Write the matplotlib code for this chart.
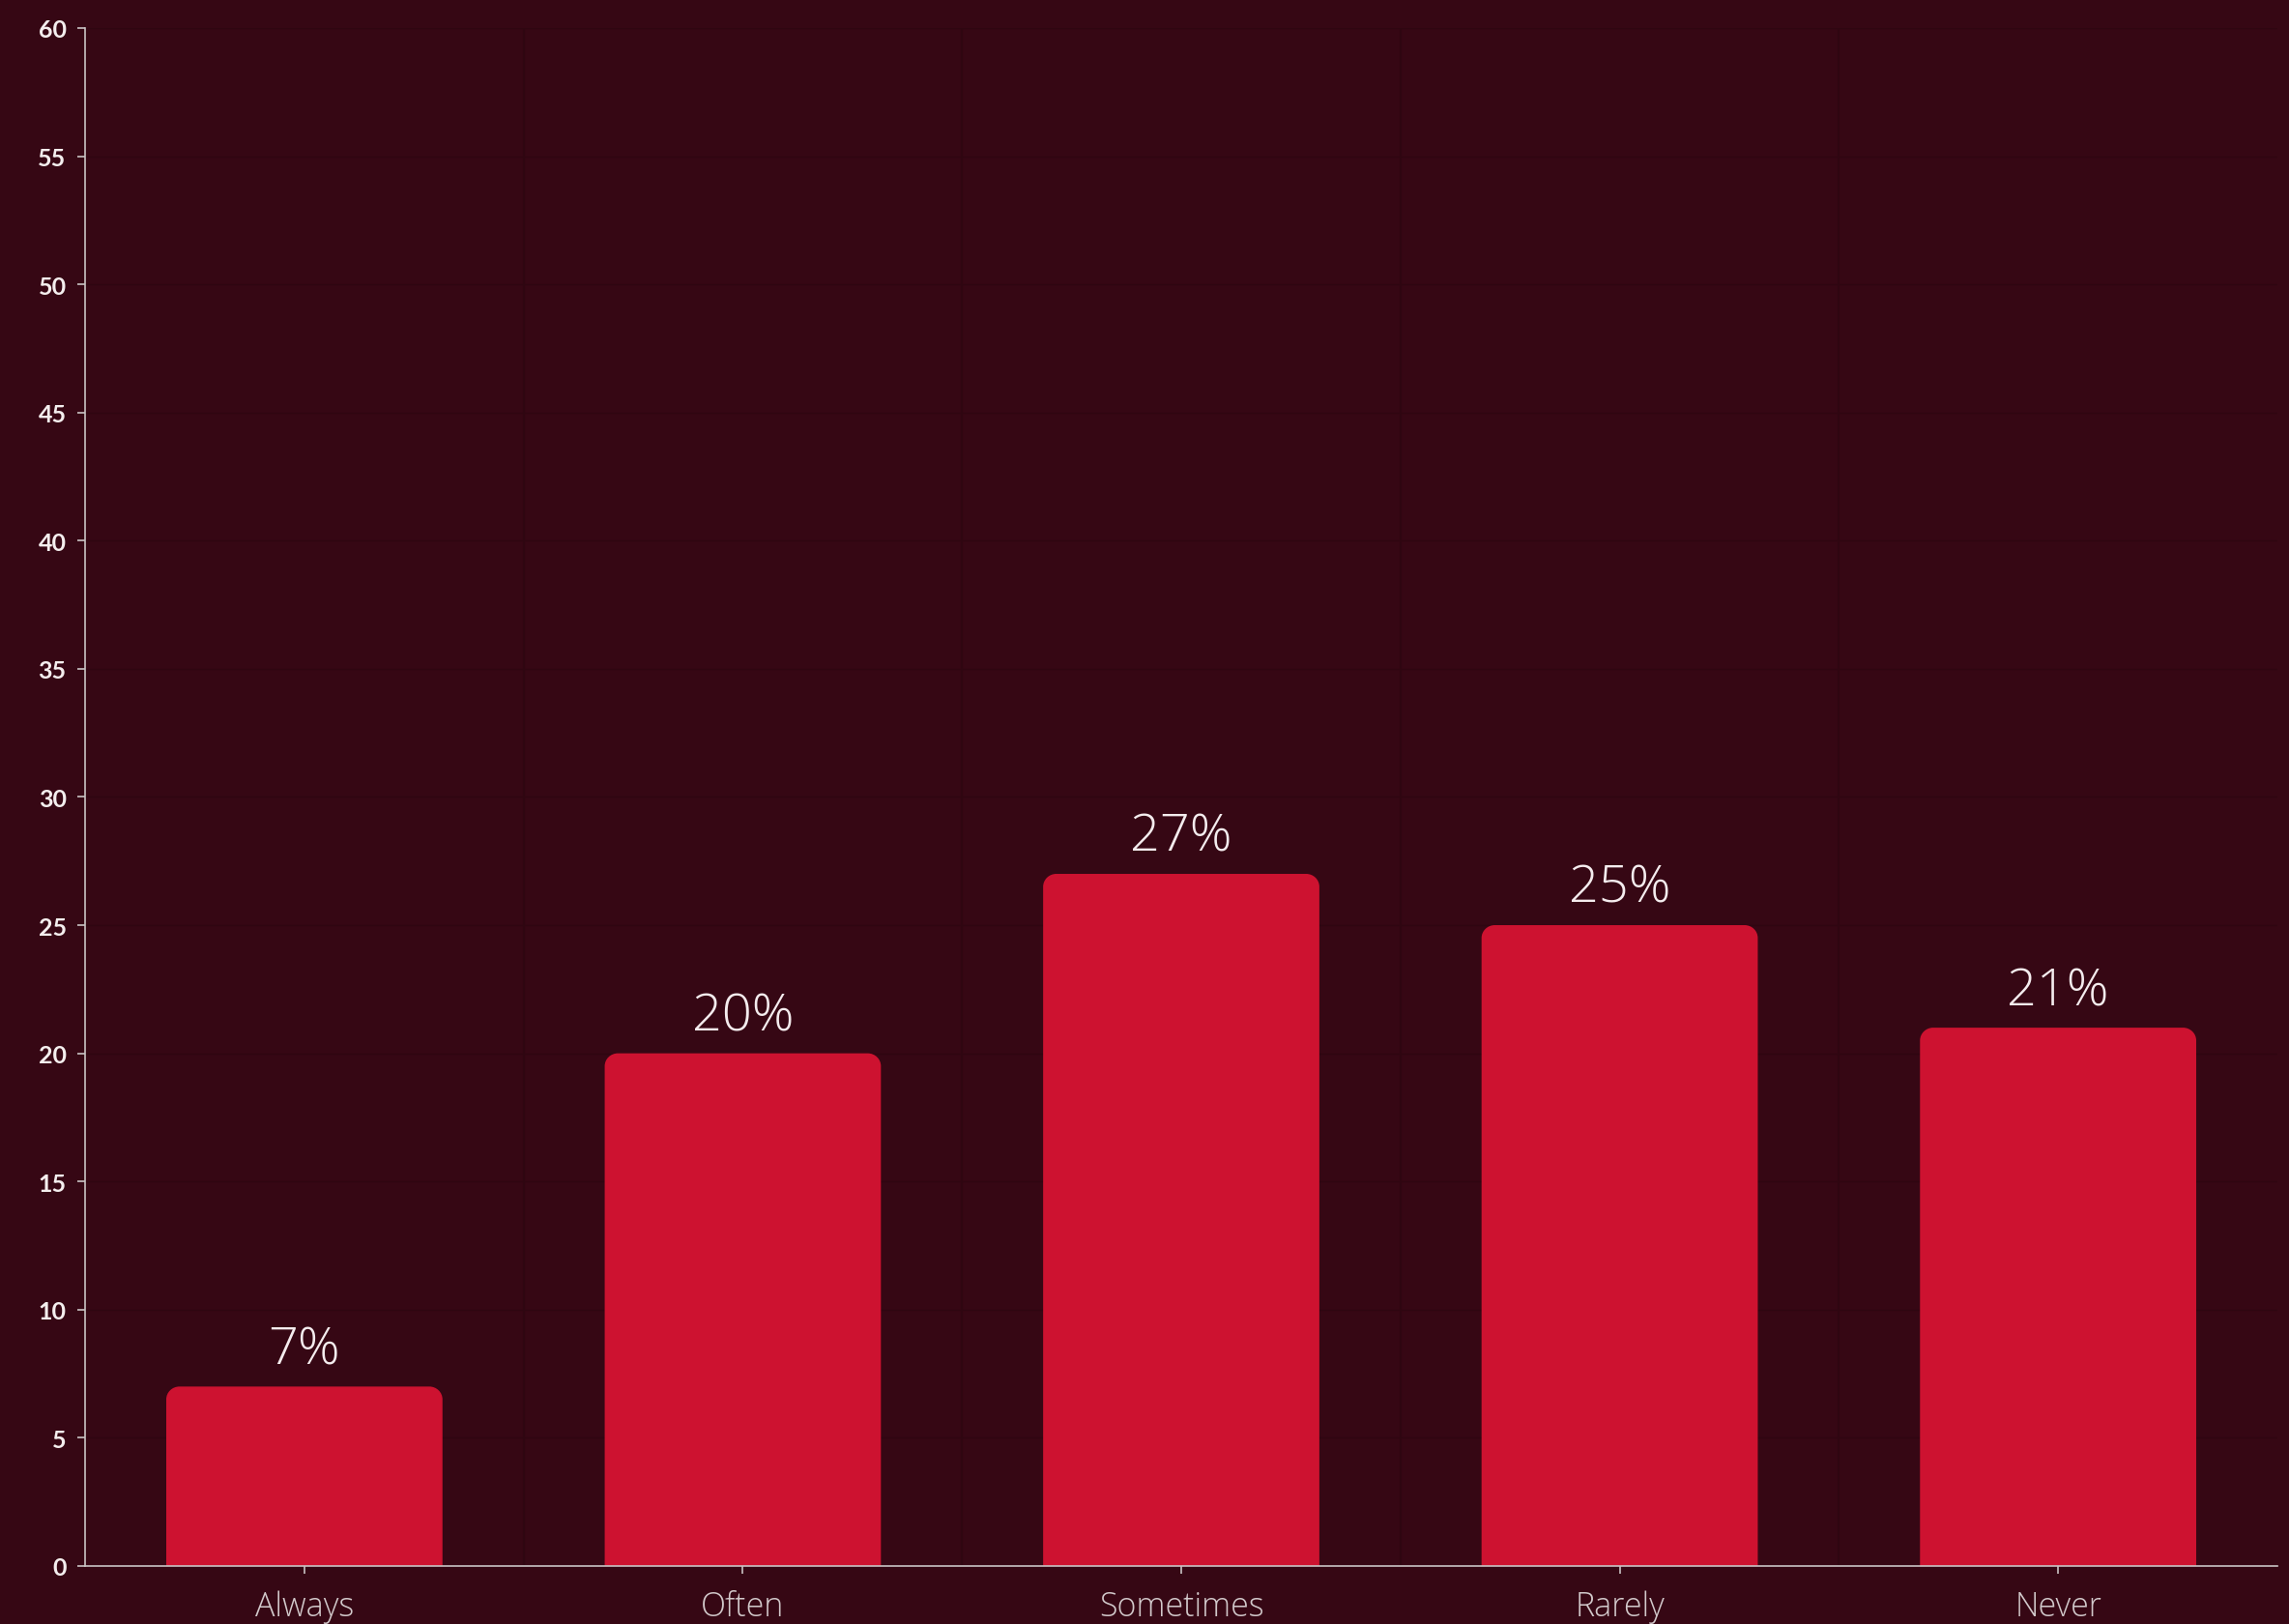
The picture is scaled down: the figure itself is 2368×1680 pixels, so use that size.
import numpy as np
import matplotlib
matplotlib.use("Agg")
from matplotlib import pyplot as plt
from matplotlib.path import Path
from matplotlib.patches import PathPatch

categories = ["Always", "Often", "Sometimes", "Rarely", "Never"]
values = [7, 20, 27, 25, 21]
y_ticks = [0, 5, 10, 15, 20, 25, 30, 35, 40, 45, 50, 55, 60]

bg = "#360714"
bar_color = "#cd1230"
grid_color = "#2f0611"
spine_color = "#c9c3c4"

plt.rcParams["font.family"] = ["Lato", "DejaVu Sans"]
light_font = ["Open Sans", "DejaVu Sans"]


def rounded_top(ax, x0, w, h, rx, ry, color):
    # bar path with rounded top corners, square bottom
    k = 0.5523
    verts = [
        (x0, 0), (x0, h - ry),
        (x0, h - ry + k * ry), (x0 + rx - k * rx, h), (x0 + rx, h),
        (x0 + w - rx, h),
        (x0 + w - rx + k * rx, h), (x0 + w, h - ry + k * ry), (x0 + w, h - ry),
        (x0 + w, 0), (x0, 0),
    ]
    codes = [Path.MOVETO, Path.LINETO,
             Path.CURVE4, Path.CURVE4, Path.CURVE4,
             Path.LINETO,
             Path.CURVE4, Path.CURVE4, Path.CURVE4,
             Path.LINETO, Path.CLOSEPOLY]
    ax.add_patch(PathPatch(Path(verts, codes), facecolor=color,
                           edgecolor="none", zorder=3))


fig = plt.figure(figsize=(23.68, 16.81), dpi=100, facecolor=bg)
ax = fig.add_axes([0.0372, 0.0357, 0.9577, 0.9465], facecolor=bg)

x = np.arange(len(categories))
bars = ax.bar(x, values, width=0.63, color="none", zorder=3)
for rect, v in zip(bars, values):
    rounded_top(ax, rect.get_x(), rect.get_width(), v, 0.03, 0.5, bar_color)
    ax.annotate(f"{v}%", (rect.get_x() + rect.get_width() / 2, v),
                xytext=(0, 8), textcoords="offset points",
                ha="center", va="bottom", fontsize=39, fontweight="light",
                family=light_font, color="#f4ecee", zorder=4)

ax.set_xlim(-0.5, len(categories) - 0.5)
ax.set_ylim(0, 60)
ax.set_xticks(x)
ax.set_xticklabels(categories, fontsize=24.5, fontweight="light",
                   family=light_font, color="#d2c9cb")
ax.set_yticks(y_ticks)
ax.set_yticklabels([str(t) for t in y_ticks], fontsize=18, fontweight="bold",
                   color="#f4eeee")

# faint grid: horizontal at ticks, vertical between categories
for t in y_ticks[1:]:
    ax.axhline(t, color=grid_color, lw=1.0, zorder=1)
for b in np.arange(0.5, len(categories) - 0.5, 1):
    ax.axvline(b, color=grid_color, lw=1.5, zorder=1)

for s in ["top", "right"]:
    ax.spines[s].set_visible(False)
for s in ["left", "bottom"]:
    ax.spines[s].set_color(spine_color)
    ax.spines[s].set_linewidth(1.2)
    ax.spines[s].set_zorder(5)

ax.tick_params(axis="y", length=6, width=1.2, color=spine_color, pad=8)
ax.tick_params(axis="x", length=6, width=1.2, color=spine_color, pad=12)

fig.savefig("out.png", dpi=100, facecolor=bg)
